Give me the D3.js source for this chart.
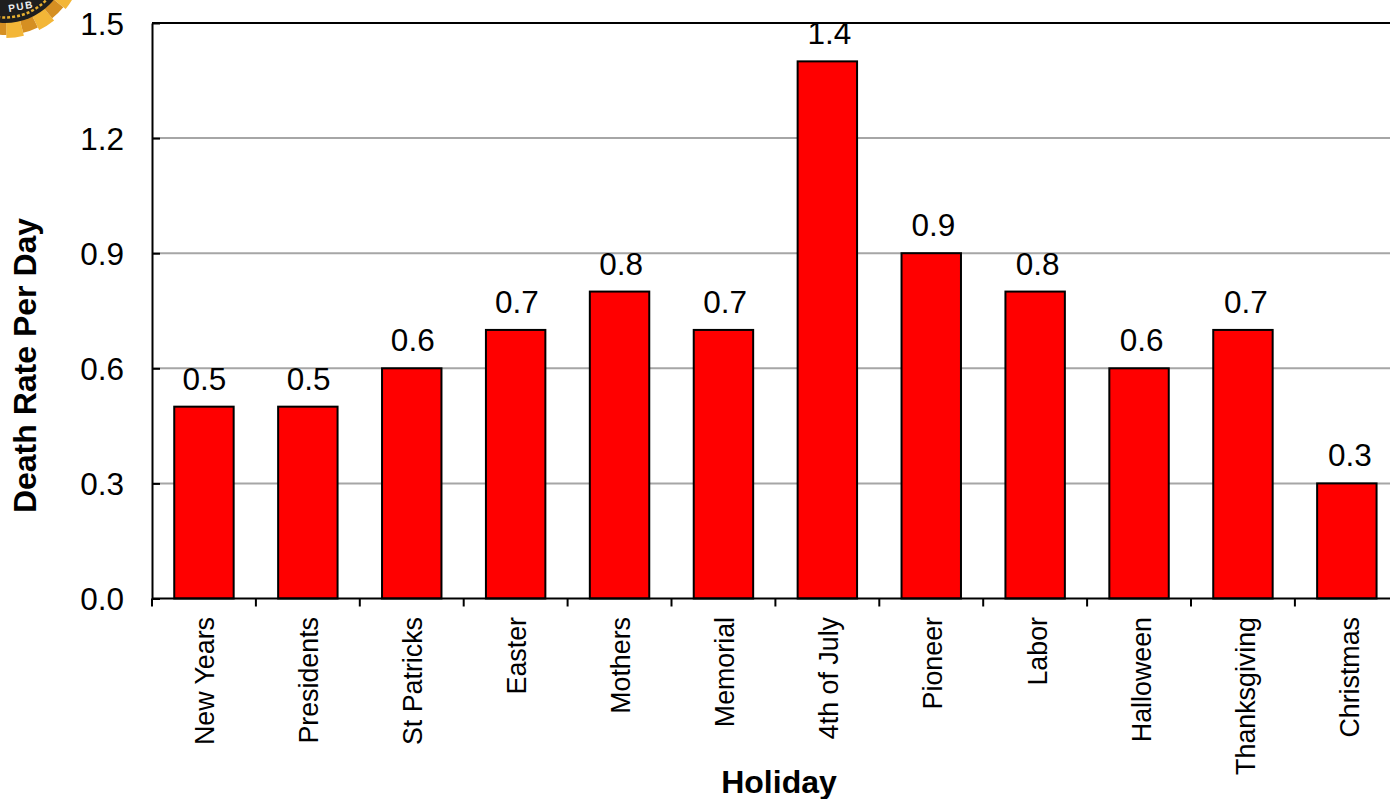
<!DOCTYPE html>
<html>
<head>
<meta charset="utf-8">
<script src="https://cdn.jsdelivr.net/npm/d3@7"></script>
<style>
  html, body { margin: 0; padding: 0; background: #fff; overflow: hidden; }
  svg { display: block; }
  text { font-family: "Liberation Sans", Arial, sans-serif; fill: #000; }
</style>
</head>
<body>
<div id="chart"></div>
<script>
const holidays = ['New Years', 'Presidents', 'St Patricks', 'Easter', 'Mothers', 'Memorial',
  '4th of July', 'Pioneer', 'Labor', 'Halloween', 'Thanksgiving', 'Christmas'];
const deathRates = [0.5, 0.5, 0.6, 0.7, 0.8, 0.7, 1.4, 0.9, 0.8, 0.6, 0.7, 0.3];
const yTicks = [0, 0.3, 0.6, 0.9, 1.2, 1.5];

const W = 1390, H = 799;
const plotLeft = 152, plotRight = 1398.8, plotTop = 23, plotBottom = 598.5;

const svg = d3.select('#chart').append('svg').attr('width', W).attr('height', H);

// seal in the corner, mostly cropped off the page
const seal = svg.append('g').attr('transform', 'translate(5,-40)');
const rad = Math.PI / 180;
d3.range(0, 14).forEach(i => {
  const c = 90 + 45 + 25 * (i - 5);     // centre of the dark sector, clockwise from 12 o'clock
  seal.append('path')
    .attr('d', d3.arc()({ innerRadius: 50, outerRadius: 78, startAngle: (c + 6) * rad, endAngle: (c + 19) * rad }))
    .attr('fill', '#f3b637');
  seal.append('path')
    .attr('d', d3.arc()({ innerRadius: 50, outerRadius: 75, startAngle: (c - 6) * rad, endAngle: (c + 6) * rad }))
    .attr('fill', '#d58f22');
});
seal.append('circle').attr('r', 63).attr('fill', '#1f1f1f');
seal.append('circle').attr('r', 57.5).attr('fill', 'none')
  .attr('stroke', '#e8b030').attr('stroke-width', 2.5).attr('stroke-dasharray', '3 2');
svg.append('text').attr('transform', 'translate(9,12) rotate(-10)')
  .attr('font-size', 10).attr('font-weight', 'bold').attr('letter-spacing', 1.5)
  .style('fill', '#eee').text('PUB');

const x = d3.scaleBand().domain(holidays).range([plotLeft, plotRight]).paddingInner(0.428).paddingOuter(0.214);
// text in the source runs on a very slightly wider step than the bars
const labelX = d3.scalePoint().domain(holidays).range([204.5, 1350]);
const y = d3.scaleLinear().domain([0, 1.5]).range([plotBottom, plotTop]);

// gridlines
svg.append('g').selectAll('line')
  .data(yTicks.filter(d => d > 0 && d < 1.5))
  .join('line')
  .attr('x1', plotLeft).attr('x2', W)
  .attr('y1', d => y(d)).attr('y2', d => y(d))
  .attr('stroke', '#a6a6a6').attr('stroke-width', 2);

// top of frame
svg.append('line').attr('x1', plotLeft).attr('x2', W).attr('y1', plotTop).attr('y2', plotTop)
  .attr('stroke', '#000').attr('stroke-width', 2);

// bars
svg.append('g').selectAll('rect')
  .data(deathRates)
  .join('rect')
  .attr('x', (d, i) => x(holidays[i]))
  .attr('y', d => y(d))
  .attr('width', x.bandwidth())
  .attr('height', d => y(0) - y(d))
  .attr('fill', '#ff0000')
  .attr('stroke', '#000')
  .attr('stroke-width', 2);

// value labels
svg.append('g').selectAll('text')
  .data(deathRates)
  .join('text')
  .attr('x', (d, i) => labelX(holidays[i]))
  .attr('y', d => y(d) - 17)
  .attr('text-anchor', 'middle')
  .attr('font-size', 31.5)
  .text(d => d.toFixed(1));

// y axis, short ticks point into the plot
const yAxis = svg.append('g').attr('transform', `translate(${plotLeft},0)`)
  .call(d3.axisLeft(y).tickValues(yTicks).tickFormat(d3.format('.1f'))
    .tickSizeInner(-8).tickSizeOuter(0).tickPadding(28));
yAxis.select('.domain').attr('stroke', '#000').attr('stroke-width', 2);
yAxis.selectAll('.tick line').attr('stroke', '#000').attr('stroke-width', 2);
yAxis.selectAll('text').attr('font-size', 31.5).attr('font-family', null).attr('dy', '0.35em');

// x axis, ticks sit on band edges
const xAxis = svg.append('g');
xAxis.append('line').attr('x1', plotLeft).attr('x2', W).attr('y1', plotBottom).attr('y2', plotBottom)
  .attr('stroke', '#000').attr('stroke-width', 2);
xAxis.selectAll('line.tick')
  .data(holidays)
  .join('line')
  .attr('class', 'tick')
  .attr('x1', d => x(d) - x.step() * 0.214)
  .attr('x2', d => x(d) - x.step() * 0.214)
  .attr('y1', plotBottom).attr('y2', plotBottom + 8)
  .attr('stroke', '#000').attr('stroke-width', 2);
xAxis.selectAll('text')
  .data(holidays)
  .join('text')
  .attr('transform', d => `translate(${labelX(d) + 9},617) rotate(-90)`)
  .attr('text-anchor', 'end')
  .attr('font-size', 26.8)
  .text(d => d);

// axis titles
svg.append('text')
  .attr('x', 779).attr('y', 792.5)
  .attr('text-anchor', 'middle')
  .attr('font-size', 32).attr('font-weight', 'bold')
  .text('Holiday');
svg.append('text')
  .attr('transform', 'translate(35.5,365.5) rotate(-90)')
  .attr('text-anchor', 'middle')
  .attr('font-size', 32).attr('font-weight', 'bold')
  .text('Death Rate Per Day');
</script>
</body>
</html>
